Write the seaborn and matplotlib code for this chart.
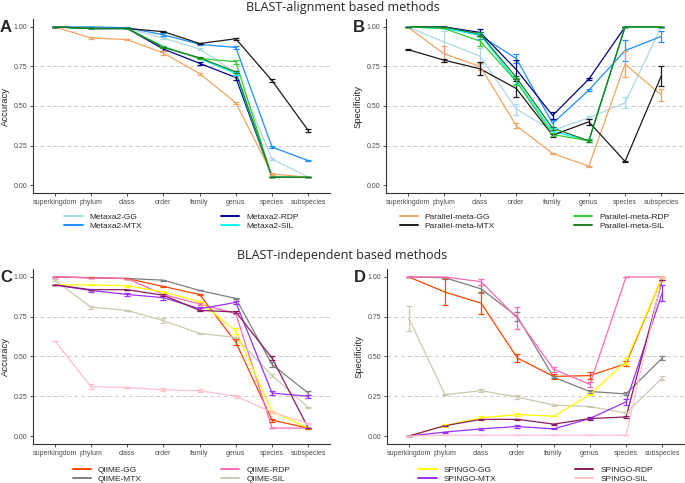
import numpy as np
import pandas as pd
import seaborn as sns
import matplotlib.pyplot as plt

ranks = ['superkingdom', 'phylum', 'class', 'order', 'family', 'genus', 'species', 'subspecies']

# panel A - accuracy, BLAST-alignment based
acc_blast = {
    'Metaxa2-GG':        [1.00, 0.99, 0.99, 0.93, 0.86, 0.71, 0.165, 0.05],
    'Metaxa2-MTX':       [1.00, 1.00, 0.995, 0.95, 0.89, 0.87, 0.24, 0.155],
    'Metaxa2-RDP':       [1.00, 0.99, 0.99, 0.86, 0.77, 0.68, 0.05, 0.05],
    'Metaxa2-SIL':       [1.00, 0.99, 0.99, 0.875, 0.80, 0.705, 0.05, 0.05],
    'Parallel-meta-GG':  [1.00, 0.93, 0.92, 0.835, 0.705, 0.52, 0.07, 0.05],
    'Parallel-meta-MTX': [1.00, 0.99, 0.99, 0.97, 0.895, 0.925, 0.66, 0.345],
    'Parallel-meta-RDP': [1.00, 0.99, 0.99, 0.875, 0.80, 0.78, 0.05, 0.05],
    'Parallel-meta-SIL': [1.00, 0.99, 0.99, 0.87, 0.805, 0.715, 0.05, 0.05],
}
acc_blast_err = {
    'Metaxa2-GG':        [0, 0, 0, 0.005, 0.005, 0.02, 0.005, 0],
    'Metaxa2-MTX':       [0, 0, 0.005, 0.01, 0.005, 0.012, 0.008, 0.004],
    'Metaxa2-RDP':       [0, 0, 0, 0.01, 0.01, 0.015, 0, 0],
    'Metaxa2-SIL':       [0, 0, 0, 0.005, 0.005, 0.01, 0, 0],
    'Parallel-meta-GG':  [0, 0.008, 0.005, 0.01, 0.006, 0.005, 0.005, 0],
    'Parallel-meta-MTX': [0, 0, 0, 0.005, 0.004, 0.005, 0.01, 0.008],
    'Parallel-meta-RDP': [0, 0, 0, 0.005, 0.005, 0.012, 0, 0],
    'Parallel-meta-SIL': [0, 0, 0, 0.005, 0.004, 0.005, 0, 0],
}

# panel B - specificity, BLAST-alignment based
spe_blast = {
    'Metaxa2-GG':        [1.00, 0.905, 0.815, 0.48, 0.345, 0.425, 0.52, 1.00],
    'Metaxa2-MTX':       [1.00, 1.00, 0.945, 0.80, 0.39, 0.60, 0.85, 0.94],
    'Metaxa2-RDP':       [1.00, 1.00, 0.965, 0.73, 0.44, 0.67, 1.00, 1.00],
    'Metaxa2-SIL':       [1.00, 0.99, 0.95, 0.66, 0.34, 0.28, 1.00, 1.00],
    'Parallel-meta-GG':  [1.00, 0.83, 0.75, 0.375, 0.20, 0.12, 0.765, 0.57],
    'Parallel-meta-MTX': [0.857, 0.79, 0.735, 0.61, 0.315, 0.40, 0.15, 0.69],
    'Parallel-meta-RDP': [1.00, 0.99, 0.91, 0.655, 0.32, 0.28, 1.00, 1.00],
    'Parallel-meta-SIL': [1.00, 1.00, 0.955, 0.68, 0.36, 0.28, 1.00, 1.00],
}
spe_blast_err = {
    'Metaxa2-GG':        [0, 0.07, 0.05, 0.035, 0.01, 0.01, 0.035, 0],
    'Metaxa2-MTX':       [0, 0, 0.02, 0.03, 0.02, 0.005, 0.065, 0.035],
    'Metaxa2-RDP':       [0, 0, 0.02, 0.06, 0.02, 0.008, 0, 0],
    'Metaxa2-SIL':       [0, 0, 0.01, 0.02, 0.02, 0.01, 0, 0],
    'Parallel-meta-GG':  [0, 0.05, 0.02, 0.015, 0.003, 0.003, 0.08, 0.04],
    'Parallel-meta-MTX': [0.005, 0.01, 0.04, 0.05, 0.01, 0.02, 0.003, 0.065],
    'Parallel-meta-RDP': [0, 0, 0.03, 0.02, 0.01, 0.01, 0, 0],
    'Parallel-meta-SIL': [0, 0, 0.01, 0.01, 0.01, 0.005, 0, 0],
}

# panel C - accuracy, BLAST-independent
acc_indep = {
    'QIIME-GG':   [1.00, 0.995, 0.99, 0.94, 0.89, 0.59, 0.10, 0.05],
    'QIIME-MTX':  [1.00, 0.995, 0.99, 0.98, 0.915, 0.865, 0.45, 0.27],
    'QIIME-RDP':  [1.00, 0.995, 0.99, 0.89, 0.83, 0.77, 0.05, 0.05],
    'QIIME-SIL':  [0.98, 0.81, 0.79, 0.725, 0.645, 0.62, 0.38, 0.18],
    'SPINGO-GG':  [0.95, 0.95, 0.945, 0.905, 0.845, 0.66, 0.155, 0.05],
    'SPINGO-MTX': [0.95, 0.915, 0.89, 0.87, 0.80, 0.84, 0.27, 0.25],
    'SPINGO-RDP': [0.95, 0.92, 0.92, 0.885, 0.79, 0.78, 0.49, 0.05],
    'SPINGO-SIL': [0.60, 0.31, 0.305, 0.29, 0.285, 0.25, 0.15, 0.08],
}
acc_indep_err = {
    'QIIME-GG':   [0, 0.003, 0.003, 0.005, 0.005, 0.02, 0.01, 0.003],
    'QIIME-MTX':  [0, 0, 0, 0.003, 0, 0.005, 0.015, 0.012],
    'QIIME-RDP':  [0, 0, 0, 0.005, 0.005, 0.005, 0, 0],
    'QIIME-SIL':  [0.005, 0.01, 0.005, 0.015, 0.005, 0.005, 0.01, 0.003],
    'SPINGO-GG':  [0, 0.003, 0.005, 0.005, 0.005, 0.02, 0.005, 0],
    'SPINGO-MTX': [0, 0.008, 0.01, 0.012, 0.01, 0.012, 0.01, 0.01],
    'SPINGO-RDP': [0, 0, 0, 0.005, 0.005, 0.005, 0.01, 0],
    'SPINGO-SIL': [0, 0.015, 0.005, 0.01, 0.01, 0.01, 0.005, 0.005],
}

# panel D - specificity, BLAST-independent
spe_indep = {
    'QIIME-GG':   [1.00, 0.905, 0.835, 0.49, 0.375, 0.38, 0.455, 1.00],
    'QIIME-MTX':  [1.00, 0.995, 0.925, 0.75, 0.37, 0.28, 0.265, 0.49],
    'QIIME-RDP':  [1.00, 1.00, 0.97, 0.74, 0.42, 0.325, 1.00, 1.00],
    'QIIME-SIL':  [0.74, 0.26, 0.285, 0.245, 0.195, 0.185, 0.145, 0.365],
    'SPINGO-GG':  [0.00, 0.065, 0.115, 0.135, 0.125, 0.26, 0.47, 1.00],
    'SPINGO-MTX': [0.00, 0.025, 0.045, 0.06, 0.045, 0.11, 0.215, 0.90],
    'SPINGO-RDP': [0.00, 0.065, 0.105, 0.105, 0.075, 0.11, 0.12, 0.98],
    'SPINGO-SIL': [0.00, 0.005, 0.005, 0.005, 0.005, 0.005, 0.005, 1.00],
}
spe_indep_err = {
    'QIIME-GG':   [0, 0.08, 0.07, 0.025, 0.015, 0.02, 0.015, 0],
    'QIIME-MTX':  [0, 0, 0.025, 0.03, 0.005, 0.01, 0.01, 0.015],
    'QIIME-RDP':  [0, 0, 0.02, 0.07, 0.015, 0.015, 0, 0],
    'QIIME-SIL':  [0.08, 0.005, 0.008, 0.015, 0.005, 0.005, 0.003, 0.015],
    'SPINGO-GG':  [0, 0.008, 0.01, 0.01, 0, 0.005, 0.02, 0],
    'SPINGO-MTX': [0, 0.003, 0.005, 0.008, 0.003, 0.005, 0.02, 0.05],
    'SPINGO-RDP': [0, 0, 0.005, 0.005, 0.003, 0.008, 0.005, 0],
    'SPINGO-SIL': [0, 0, 0, 0, 0, 0, 0, 0],
}

pal_blast = {
    'Metaxa2-GG': '#ADD8E6', 'Metaxa2-MTX': '#1E90FF',
    'Metaxa2-RDP': '#00008B', 'Metaxa2-SIL': '#00FFFF',
    'Parallel-meta-GG': '#F4A460', 'Parallel-meta-MTX': '#1A1A1A',
    'Parallel-meta-RDP': '#32CD32', 'Parallel-meta-SIL': '#1E7B1E',
}
pal_indep = {
    'QIIME-GG': '#FF4500', 'QIIME-MTX': '#7F7F7F',
    'QIIME-RDP': '#FF69B4', 'QIIME-SIL': '#CDC8B1',
    'SPINGO-GG': '#FFFF00', 'SPINGO-MTX': '#9B30FF',
    'SPINGO-RDP': '#8B1C62', 'SPINGO-SIL': '#FFC0CB',
}

sns.set_style('white')
plt.rcParams['font.family'] = ['Liberation Sans', 'DejaVu Sans']

W, H = 685, 483
fig = plt.figure(figsize=(W / 100, H / 100), dpi=100)


def px_axes(left, top, right, bottom):
    return fig.add_axes([left / W, 1 - bottom / H, (right - left) / W, (bottom - top) / H])


def draw_panel(ax, vals, errs, pal, ylabel, letter, legend_keys, legend_y):
    x = np.arange(len(ranks))
    rows = []
    for name, v in vals.items():
        for i, r in enumerate(ranks):
            rows.append({'pos': x[i], 'value': v[i], 'method': name})
    df = pd.DataFrame(rows)
    sns.lineplot(data=df, x='pos', y='value', hue='method', palette=pal,
                 hue_order=list(vals.keys()), linewidth=0.9, ax=ax, legend=True)
    for name, v in vals.items():
        ax.errorbar(x, v, yerr=errs[name], fmt='none', ecolor=pal[name],
                    elinewidth=0.9, capsize=2, capthick=0.9)
    for g in [0.25, 0.5, 0.75]:
        ax.axhline(g, color='#cccccc', lw=0.7, ls=(0, (4, 3)), zorder=0)
    ax.set_xlim(-0.6, len(ranks) - 0.4)
    ax.set_ylim(-0.05, 1.05)
    ax.set_xticks(x)
    ax.set_xticklabels(ranks)
    ax.set_yticks([0, 0.25, 0.5, 0.75, 1.0])
    ax.set_yticklabels(['0.00', '0.25', '0.50', '0.75', '1.00'])
    ax.tick_params(axis='both', labelsize=5.0, labelcolor='#4D4D4D', length=2,
                   width=0.6, color='#333333', pad=2, left=True, bottom=True)
    for s in ['top', 'right']:
        ax.spines[s].set_visible(False)
    for s in ['left', 'bottom']:
        ax.spines[s].set_color('#333333')
        ax.spines[s].set_linewidth(0.8)
    ax.set_xlabel('')
    ax.set_ylabel(ylabel, fontsize=6.8, labelpad=3)
    handles, labels = ax.get_legend_handles_labels()
    ax.get_legend().remove()
    hmap = dict(zip(labels, handles))
    sel = [hmap[k] for k in legend_keys]
    for h in sel:
        h.set_linewidth(1.4)
    ax.legend(sel, legend_keys, loc='center', bbox_to_anchor=(0.5, legend_y),
              ncol=2, frameon=False, fontsize=6, handlelength=2.2,
              handletextpad=0.8, columnspacing=9.5, labelspacing=0.15)
    bb = ax.get_position()
    fig.text(bb.x0 - 27 / W, bb.y1 - 8 / H, letter, fontsize=12,
             fontweight='bold', ha='center', va='center')


ax_a = px_axes(33, 19, 330, 193)
ax_b = px_axes(386, 19, 683, 193)
ax_c = px_axes(33, 269, 330, 444)
ax_d = px_axes(387, 269, 684, 444)

leg_y = -0.165
draw_panel(ax_a, acc_blast, acc_blast_err, pal_blast, 'Accuracy', 'A',
           ['Metaxa2-GG', 'Metaxa2-MTX', 'Metaxa2-RDP', 'Metaxa2-SIL'], leg_y)
draw_panel(ax_b, spe_blast, spe_blast_err, pal_blast, 'Specificity', 'B',
           ['Parallel-meta-GG', 'Parallel-meta-MTX', 'Parallel-meta-RDP', 'Parallel-meta-SIL'], leg_y)
draw_panel(ax_c, acc_indep, acc_indep_err, pal_indep, 'Accuracy', 'C',
           ['QIIME-GG', 'QIIME-MTX', 'QIIME-RDP', 'QIIME-SIL'], leg_y - 0.01)
draw_panel(ax_d, spe_indep, spe_indep_err, pal_indep, 'Specificity', 'D',
           ['SPINGO-GG', 'SPINGO-MTX', 'SPINGO-RDP', 'SPINGO-SIL'], leg_y - 0.01)

fig.text(0.5, 1 - 7 / H, 'BLAST-alignment based methods', ha='center', va='center',
         fontsize=9, family=['Open Sans', 'DejaVu Sans'])
fig.text(0.5, 1 - 255 / H, 'BLAST-independent based methods', ha='center', va='center',
         fontsize=9, family=['Open Sans', 'DejaVu Sans'])

fig.savefig('out.png', dpi=100)
